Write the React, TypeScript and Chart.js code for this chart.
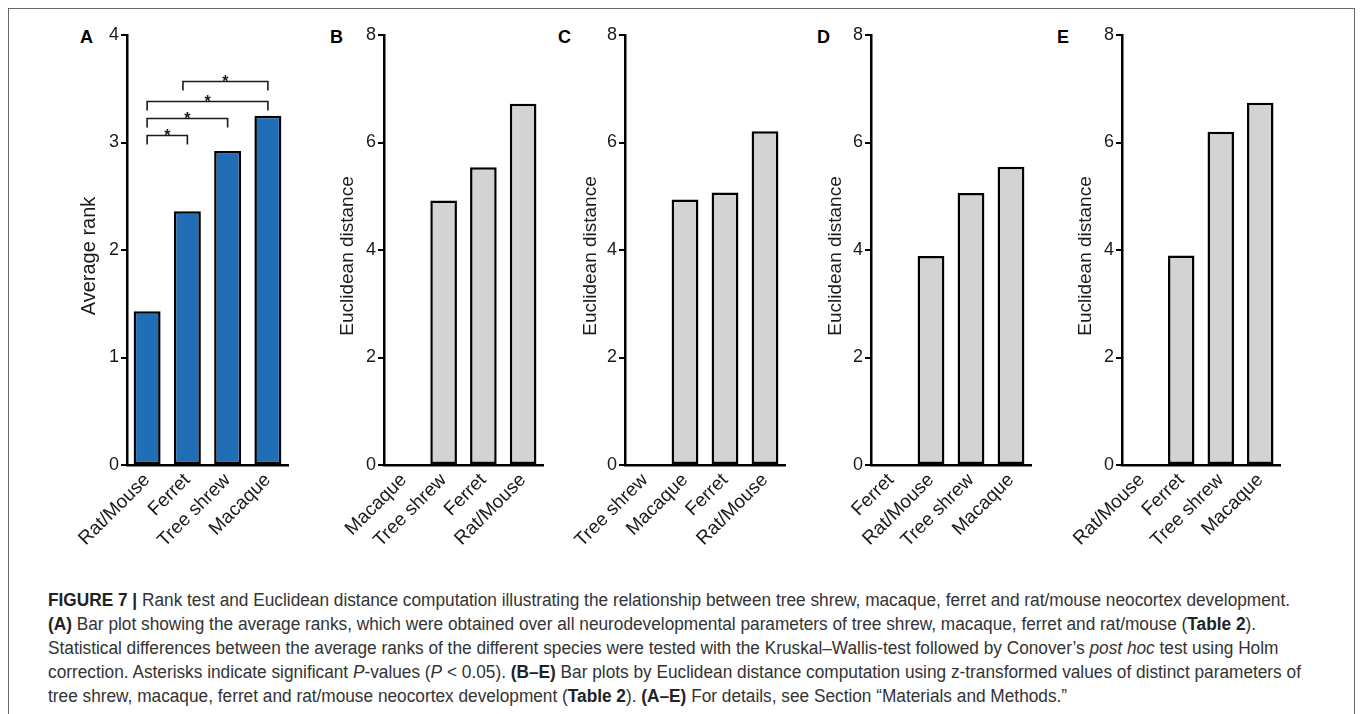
import React, { useEffect, useLayoutEffect, useRef, useState } from "react";
import { Chart, registerables } from "chart.js";
Chart.register(...registerables);

// ---------------- data ----------------
const catsA = ["Rat/Mouse", "Ferret", "Tree shrew", "Macaque"];
const rankA = [1.43, 2.36, 2.92, 3.25];

const catsB = ["Macaque", "Tree shrew", "Ferret", "Rat/Mouse"];
const distB = [0, 4.92, 5.54, 6.72];

const catsC = ["Tree shrew", "Macaque", "Ferret", "Rat/Mouse"];
const distC = [0, 4.94, 5.07, 6.21];

const catsD = ["Ferret", "Rat/Mouse", "Tree shrew", "Macaque"];
const distD = [0, 3.89, 5.06, 5.55];

const catsE = ["Rat/Mouse", "Ferret", "Tree shrew", "Macaque"];
const distE = [0, 3.9, 6.2, 6.74];

const ticksA = [0, 1, 2, 3, 4];
const ticksBE = [0, 2, 4, 6, 8];

// significance brackets in panel A (category index from / to, bracket height in rank units)
const sigFrom = [0, 0, 0, 0.89];
const sigTo = [1, 2, 3, 3];
const sigY = [3.07, 3.23, 3.39, 3.57];
const sigMark = ["*", "*", "*", "*"];

const FONT = "'Liberation Sans', Arial, Helvetica, sans-serif";
const INK = "#1a1a1a";

const bracketPlugin = {
  id: "sigBrackets",
  afterDatasetsDraw(chart: any) {
    const { ctx, scales } = chart;
    const x = scales.x;
    const y = scales.y;
    ctx.save();
    ctx.strokeStyle = INK;
    ctx.fillStyle = INK;
    ctx.lineWidth = 1.6;
    ctx.font = `bold 16px ${FONT}`;
    ctx.textAlign = "center";
    ctx.textBaseline = "alphabetic";
    for (let i = 0; i < sigFrom.length; i++) {
      const x1 = x.getPixelForValue(sigFrom[i]);
      const x2 = x.getPixelForValue(sigTo[i]);
      const yy = Math.round(y.getPixelForValue(sigY[i])) + 0.5;
      ctx.beginPath();
      ctx.moveTo(x1, yy + 9);
      ctx.lineTo(x1, yy);
      ctx.lineTo(x2, yy);
      ctx.lineTo(x2, yy + 9);
      ctx.stroke();
      ctx.fillText(sigMark[i], (x1 + x2) / 2, yy + 5);
    }
    ctx.restore();
  },
};

// y-axis title drawn beside the axis, slightly below the middle of the plot area
const yTitlePlugin = {
  id: "yTitle",
  afterDraw(chart: any, _args: any, opts: any) {
    const { ctx, chartArea } = chart;
    ctx.save();
    ctx.fillStyle = INK;
    ctx.font = `${opts.size}px ${FONT}`;
    ctx.textAlign = "center";
    ctx.textBaseline = "middle";
    ctx.translate(chartArea.left - opts.gap, (chartArea.top + chartArea.bottom) / 2 + opts.shift);
    ctx.rotate(-Math.PI / 2);
    ctx.fillText(opts.text, 0, 0);
    ctx.restore();
  },
};

type PanelProps = {
  cats: string[];
  vals: number[];
  ticks: number[];
  yTitle: string;
  titleSize: number;
  fill: string;
  axisX: number;
  areaW: number;
  titleGap: number;
  brackets?: boolean;
};

const YW = 60;
const PAD_TOP = 20;
const XH = 110;
const PAD_RIGHT = 10;
const CANVAS_TOP = 15;
const AREA_H = 430;

function BarPanel(p: PanelProps) {
  const ref = useRef<HTMLCanvasElement>(null);
  useEffect(() => {
    const chart = new Chart(ref.current as HTMLCanvasElement, {
      type: "bar",
      data: {
        labels: p.cats,
        datasets: [
          {
            data: p.vals,
            backgroundColor: p.fill,
            borderColor: "#000",
            borderWidth: 2.5,
            borderSkipped: false,
            barPercentage: 0.67,
            categoryPercentage: 1,
          } as any,
        ],
      },
      options: {
        responsive: false,
        animation: false,
        devicePixelRatio: 1,
        layout: { padding: { top: PAD_TOP, right: PAD_RIGHT, left: 0, bottom: 0 } },
        plugins: {
          legend: { display: false },
          tooltip: { enabled: false },
          yTitle: { text: p.yTitle, size: p.titleSize, gap: p.titleGap, shift: 6 },
        },
        scales: {
          x: {
            grid: { display: false, drawTicks: false },
            border: { display: true, color: "#000", width: 2.5 },
            ticks: {
              color: INK,
              font: { family: FONT, size: 19 },
              minRotation: 45,
              maxRotation: 45,
              autoSkip: false,
              padding: 4,
            },
            afterFit: (s: any) => {
              s.height = XH;
            },
          },
          y: {
            min: p.ticks[0],
            max: p.ticks[p.ticks.length - 1],
            afterBuildTicks: (s: any) => {
              s.ticks = p.ticks.map((v) => ({ value: v }));
            },
            ticks: {
              color: INK,
              font: { family: FONT, size: 18 },
              padding: 2,
            },
            grid: {
              display: true,
              drawOnChartArea: false,
              drawTicks: true,
              tickLength: 6,
              color: "#000",
              lineWidth: 2,
            },
            border: { display: true, color: "#000", width: 2.5 },
            afterFit: (s: any) => {
              s.width = YW;
            },
          },
        },
      } as any,
      plugins: p.brackets ? [yTitlePlugin, bracketPlugin] : [yTitlePlugin],
    });
    return () => chart.destroy();
  }, []);
  const w = YW + p.areaW + PAD_RIGHT;
  const h = PAD_TOP + AREA_H + XH;
  return (
    <canvas
      ref={ref}
      width={w}
      height={h}
      style={{ position: "absolute", left: p.axisX - YW, top: CANVAS_TOP, width: w, height: h }}
    />
  );
}

const panelLetters = ["A", "B", "C", "D", "E"];
const letterX = [80, 330, 558, 817, 1057];

function Caption() {
  const ref = useRef<HTMLDivElement>(null);
  const [sx, setSx] = useState(1);
  useLayoutEffect(() => {
    const el = ref.current;
    if (!el) return;
    const first = el.querySelector("span.l1") as HTMLElement;
    if (first) {
      const w = first.getBoundingClientRect().width;
      if (w > 0) setSx(1242 / w);
    }
  }, []);
  const lineStyle = (i: number): React.CSSProperties => ({
    position: "absolute",
    left: 48,
    top: 588 + i * 24,
    whiteSpace: "nowrap",
    lineHeight: "24px",
    transform: `scaleX(${sx})`,
    transformOrigin: "0 0",
  });
  return (
    <div ref={ref} style={{ position: "absolute", left: 0, top: 0, fontSize: 18, color: "#333", fontFamily: FONT }}>
      <div style={lineStyle(0)}>
        <span className="l1">
          <b style={{ color: "#222" }}>FIGURE 7 |</b> Rank test and Euclidean distance computation illustrating the relationship between tree shrew, macaque, ferret and rat/mouse neocortex development.
        </span>
      </div>
      <div style={lineStyle(1)}>
        <b style={{ color: "#222" }}>(A)</b> Bar plot showing the average ranks, which were obtained over all neurodevelopmental parameters of tree shrew, macaque, ferret and rat/mouse (<b style={{ color: "#222" }}>Table 2</b>).
      </div>
      <div style={lineStyle(2)}>
        Statistical differences between the average ranks of the different species were tested with the Kruskal–Wallis-test followed by Conover’s <i>post hoc</i> test using Holm
      </div>
      <div style={lineStyle(3)}>
        correction. Asterisks indicate significant <i>P</i>-values (<i>P</i> &lt; 0.05). <b style={{ color: "#222" }}>(B–E)</b> Bar plots by Euclidean distance computation using z-transformed values of distinct parameters of
      </div>
      <div style={lineStyle(4)}>
        tree shrew, macaque, ferret and rat/mouse neocortex development (<b style={{ color: "#222" }}>Table 2</b>). <b style={{ color: "#222" }}>(A–E)</b> For details, see Section “Materials and Methods.”
      </div>
    </div>
  );
}

export default function App() {
  return (
    <div
      style={{
        position: "fixed",
        left: 0,
        top: 0,
        width: 1360,
        height: 714,
        background: "#fff",
        overflow: "hidden",
        fontFamily: FONT,
      }}
    >
      <div
        style={{
          position: "absolute",
          left: 8,
          top: 8,
          width: 1347,
          height: 760,
          border: "1px solid #666",
          boxSizing: "border-box",
        }}
      />
      {panelLetters.map((l, i) => (
        <div
          key={l}
          style={{
            position: "absolute",
            left: letterX[i],
            top: 28,
            fontSize: 18,
            lineHeight: "18px",
            fontWeight: "bold",
            color: "#000",
          }}
        >
          {l}
        </div>
      ))}
      <BarPanel cats={catsA} vals={rankA} ticks={ticksA} yTitle="Average rank" titleSize={20} fill="#1f6eb6" axisX={127} areaW={161} titleGap={38} brackets />
      <BarPanel cats={catsB} vals={distB} ticks={ticksBE} yTitle="Euclidean distance" titleSize={19} fill="#d3d3d3" axisX={384} areaW={159} titleGap={36} />
      <BarPanel cats={catsC} vals={distC} ticks={ticksBE} yTitle="Euclidean distance" titleSize={19} fill="#d3d3d3" axisX={625} areaW={160} titleGap={34} />
      <BarPanel cats={catsD} vals={distD} ticks={ticksBE} yTitle="Euclidean distance" titleSize={19} fill="#d3d3d3" axisX={871} areaW={160} titleGap={35} />
      <BarPanel cats={catsE} vals={distE} ticks={ticksBE} yTitle="Euclidean distance" titleSize={19} fill="#d3d3d3" axisX={1122} areaW={158} titleGap={36} />
      <Caption />
    </div>
  );
}
